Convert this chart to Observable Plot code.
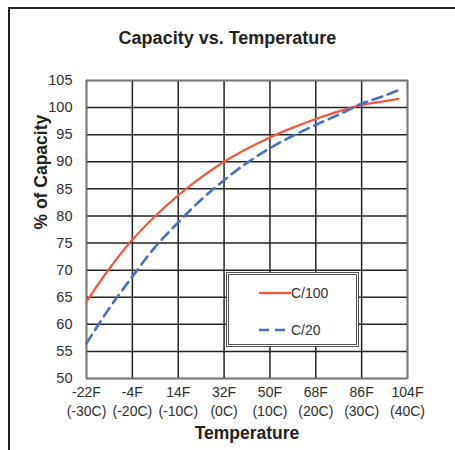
<!DOCTYPE html>
<html>
<head>
<meta charset="utf-8">
<script src="https://cdn.jsdelivr.net/npm/d3@7"></script>
<script src="https://cdn.jsdelivr.net/npm/@observablehq/plot@0.6"></script>
<style>
  html, body { margin: 0; padding: 0; background: #fff; overflow: hidden; }
  body { width: 455px; height: 450px; position: relative; font-family: "Liberation Sans", Arial, sans-serif; }
  #frame { position: absolute; left: 8px; top: 7px; width: 600px; height: 600px;
           border-left: 2px solid #222; border-top: 2px solid #222; box-shadow: -1px -1px 0 #bbb inset; }
  #title { position: absolute; left: 0; top: 28px; width: 455px; text-align: center;
           font-weight: bold; font-size: 18px; color: #222; }
  #chart { position: absolute; left: 0; top: 58px; }
  #legend { position: absolute; left: 226px; top: 272px; width: 127px; height: 69px;
            border: 3px double #555; background: #fff; }
  .row { position: absolute; left: 0; font-size: 14px; color: #333; display: flex; align-items: center; }
</style>
</head>
<body>
<div id="frame"></div>
<div id="title">Capacity vs. Temperature</div>
<div id="chart"></div>
<div id="legend"></div>
<script>
const tempC = [-30, -25, -20, -15, -10, -5, 0, 5, 10, 15, 20, 25, 30, 35, 38];
const c100 = [64.2, 70.3, 75.6, 80.0, 83.8, 87.1, 90.0, 92.4, 94.5, 96.3, 97.9, 99.3, 100.5, 101.2, 101.6];
const c20  = [56.5, 63.0, 68.8, 74.3, 78.8, 83.0, 86.6, 89.8, 92.5, 94.8, 96.8, 98.7, 100.7, 102.2, 103.2];
const xTicks = [-30, -20, -10, 0, 10, 20, 30, 40];
const xTickF = ["-22F", "-4F", "14F", "32F", "50F", "68F", "86F", "104F"];
const xTickC = ["(-30C)", "(-20C)", "(-10C)", "(0C)", "(10C)", "(20C)", "(30C)", "(40C)"];
const yTicks = [50, 55, 60, 65, 70, 75, 80, 85, 90, 95, 100, 105];
const seriesNames = ["C/100", "C/20"];
const seriesColors = ["#f2583e", "#4a6fc8"];

const rows = [];
tempC.forEach((t, i) => {
  rows.push({t, v: c100[i], s: seriesNames[0]});
  rows.push({t, v: c20[i], s: seriesNames[1]});
});

const chart = Plot.plot({
  width: 455,
  height: 392,
  marginLeft: 86,
  marginRight: 48,
  marginTop: 22,
  marginBottom: 72,
  style: {fontFamily: "Liberation Sans, Arial, sans-serif", fontSize: "14px", color: "#333", background: "transparent"},
  x: {domain: [-30, 40], ticks: xTicks},
  y: {domain: [50, 105], ticks: yTicks},
  marks: [
    Plot.gridX(xTicks, {stroke: "#222", strokeOpacity: 1, strokeWidth: 1.5}),
    Plot.gridY(yTicks, {stroke: "#222", strokeOpacity: 1, strokeWidth: 1.5}),
    Plot.frame({stroke: "#777", strokeWidth: 1.5}),
    Plot.axisX(xTicks, {tickSize: 0, tickPadding: 6, label: null,
      tickFormat: (d) => { const i = xTicks.indexOf(d); return xTickF[i] + "\n" + xTickC[i]; },
      fontSize: 14, lineHeight: 1.3, fill: "#2e2e2e"}),
    Plot.axisY(yTicks, {tickSize: 0, tickPadding: 14, label: null, fontSize: 14.5, fill: "#2e2e2e"}),
    Plot.line(rows.filter(d => d.s === seriesNames[0]), {x: "t", y: "v", stroke: seriesColors[0], strokeWidth: 2.2, curve: "catmull-rom"}),
    Plot.line(rows.filter(d => d.s === seriesNames[1]), {x: "t", y: "v", stroke: seriesColors[1], strokeWidth: 2.6, strokeDasharray: "10,6", curve: "catmull-rom"}),
    Plot.text(["Temperature"], {frameAnchor: "bottom", dy: 60, fontSize: 17.5, fontWeight: "bold", fill: "#222"}),
    Plot.text(["% of Capacity"], {frameAnchor: "left", dx: -45, rotate: -90, fontSize: 17.5, fontWeight: "bold", fill: "#222"})
  ]
});
document.getElementById("chart").appendChild(chart);

const legend = document.getElementById("legend");
const rowTops = [10, 47];
seriesNames.forEach((name, i) => {
  const r = document.createElement("div");
  r.className = "row";
  r.style.top = rowTops[i] + "px";
  r.style.left = "29px";
  const dash = i === 1 ? 'stroke-dasharray="10,6"' : "";
  r.innerHTML = `<svg width="33" height="12"><line x1="1" y1="6" x2="33" y2="6" stroke="${seriesColors[i]}" stroke-width="2.4" ${dash}/></svg><span>${name}</span>`;
  legend.appendChild(r);
});
</script>
</body>
</html>
